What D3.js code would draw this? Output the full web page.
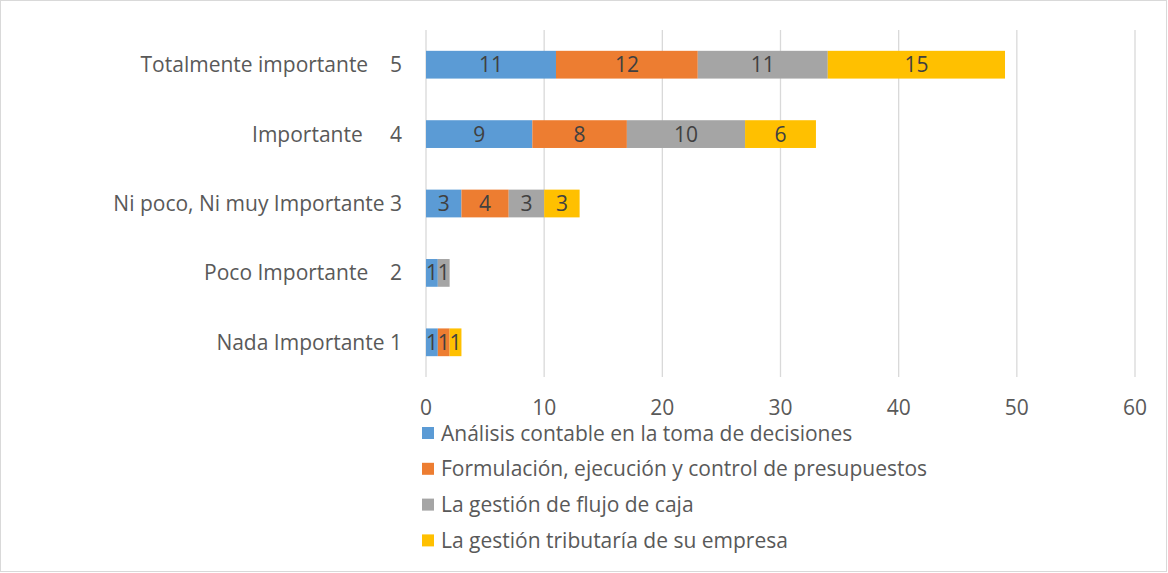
<!DOCTYPE html>
<html lang="es">
<head>
<meta charset="UTF-8">
<script src="https://d3js.org/d3.v7.min.js"></script>
<style>
  body { margin: 0; background: #fff; }
  svg { display: block; font-family: "Open Sans", "Noto Sans", sans-serif; }
  .cat { white-space: pre; }
</style>
</head>
<body>
<script>
// categories, top to bottom
const categories = [
  "Totalmente importante    5",
  "Importante     4",
  "Ni poco, Ni muy Importante 3",
  "Poco Importante    2",
  "Nada Importante 1"
];
const seriesNames = [
  "Análisis contable en la toma de decisiones",
  "Formulación, ejecución y control de presupuestos",
  "La gestión de flujo de caja",
  "La gestión tributaría de su empresa"
];
const seriesColors = ["#5b9bd5", "#ed7d31", "#a5a5a5", "#ffc000"];
// values per series, in category order
const analisis     = [11, 9, 3, 1, 1];
const formulacion  = [12, 8, 4, 0, 1];
const flujo        = [11, 10, 3, 1, 0];
const tributaria   = [15, 6, 3, 0, 1];
const xTicks = [0, 10, 20, 30, 40, 50, 60];

const W = 1168, H = 573;
const margin = { left: 426, right: 33, top: 30, bottom: 196 };
const FS = 21;

const svg = d3.select("body").append("svg")
  .attr("width", W).attr("height", H);

svg.append("rect")
  .attr("x", 0.5).attr("y", 0.5)
  .attr("width", W - 2).attr("height", H - 2)
  .attr("fill", "#fff").attr("stroke", "#d9d9d9");

const x = d3.scaleLinear().domain([0, 60]).range([margin.left, W - margin.right]);
const y = d3.scaleBand().domain(categories)
  .range([margin.top, H - margin.bottom]).paddingInner(0.6).paddingOuter(0.3);

// gridlines
svg.append("g").selectAll("line").data(xTicks).join("line")
  .attr("x1", d => x(d)).attr("x2", d => x(d))
  .attr("y1", margin.top).attr("y2", H - margin.bottom)
  .attr("stroke", "#d9d9d9").attr("stroke-width", 1.3);

const rows = categories.map((c, i) => ({
  cat: c, vals: [analisis[i], formulacion[i], flujo[i], tributaria[i]]
}));
const stack = d3.stack().keys([0, 1, 2, 3]).value((d, k) => d.vals[k]);
const layers = stack(rows);

const g = svg.append("g");
layers.forEach((layer, k) => {
  layer.forEach(seg => {
    const v = seg[1] - seg[0];
    if (v <= 0) return;
    g.append("rect")
      .attr("x", x(seg[0])).attr("y", y(seg.data.cat))
      .attr("width", x(seg[1]) - x(seg[0])).attr("height", y.bandwidth())
      .attr("fill", seriesColors[k]);
  });
});
layers.forEach((layer) => {
  layer.forEach(seg => {
    const v = seg[1] - seg[0];
    if (v <= 0) return;
    g.append("text")
      .attr("x", (x(seg[0]) + x(seg[1])) / 2)
      .attr("y", y(seg.data.cat) + y.bandwidth() / 2)
      .attr("dy", "0.36em")
      .attr("text-anchor", "middle")
      .attr("font-size", FS).attr("fill", "#404040")
      .text(v);
  });
});

// category labels
svg.append("g").selectAll("text").data(categories).join("text")
  .attr("class", "cat")
  .attr("x", 402).attr("y", d => y(d) + y.bandwidth() / 2)
  .attr("dy", "0.36em").attr("text-anchor", "end")
  .attr("font-size", FS).attr("fill", "#595959")
  .text(d => d);

// x tick labels
svg.append("g").selectAll("text").data(xTicks).join("text")
  .attr("x", d => x(d)).attr("y", 407)
  .attr("dy", "0.36em").attr("text-anchor", "middle")
  .attr("font-size", FS).attr("fill", "#595959")
  .text(d => d);

// legend
const leg = svg.append("g").attr("transform", "translate(422,433)");
seriesNames.forEach((name, i) => {
  const row = leg.append("g").attr("transform", `translate(0,${i * 35.8})`);
  row.append("rect").attr("x", 0).attr("y", -6).attr("width", 12).attr("height", 12)
    .attr("fill", seriesColors[i]);
  row.append("text").attr("x", 19).attr("y", 0).attr("dy", "0.36em")
    .attr("font-size", FS).attr("fill", "#595959").text(name);
});
</script>
</body>
</html>
